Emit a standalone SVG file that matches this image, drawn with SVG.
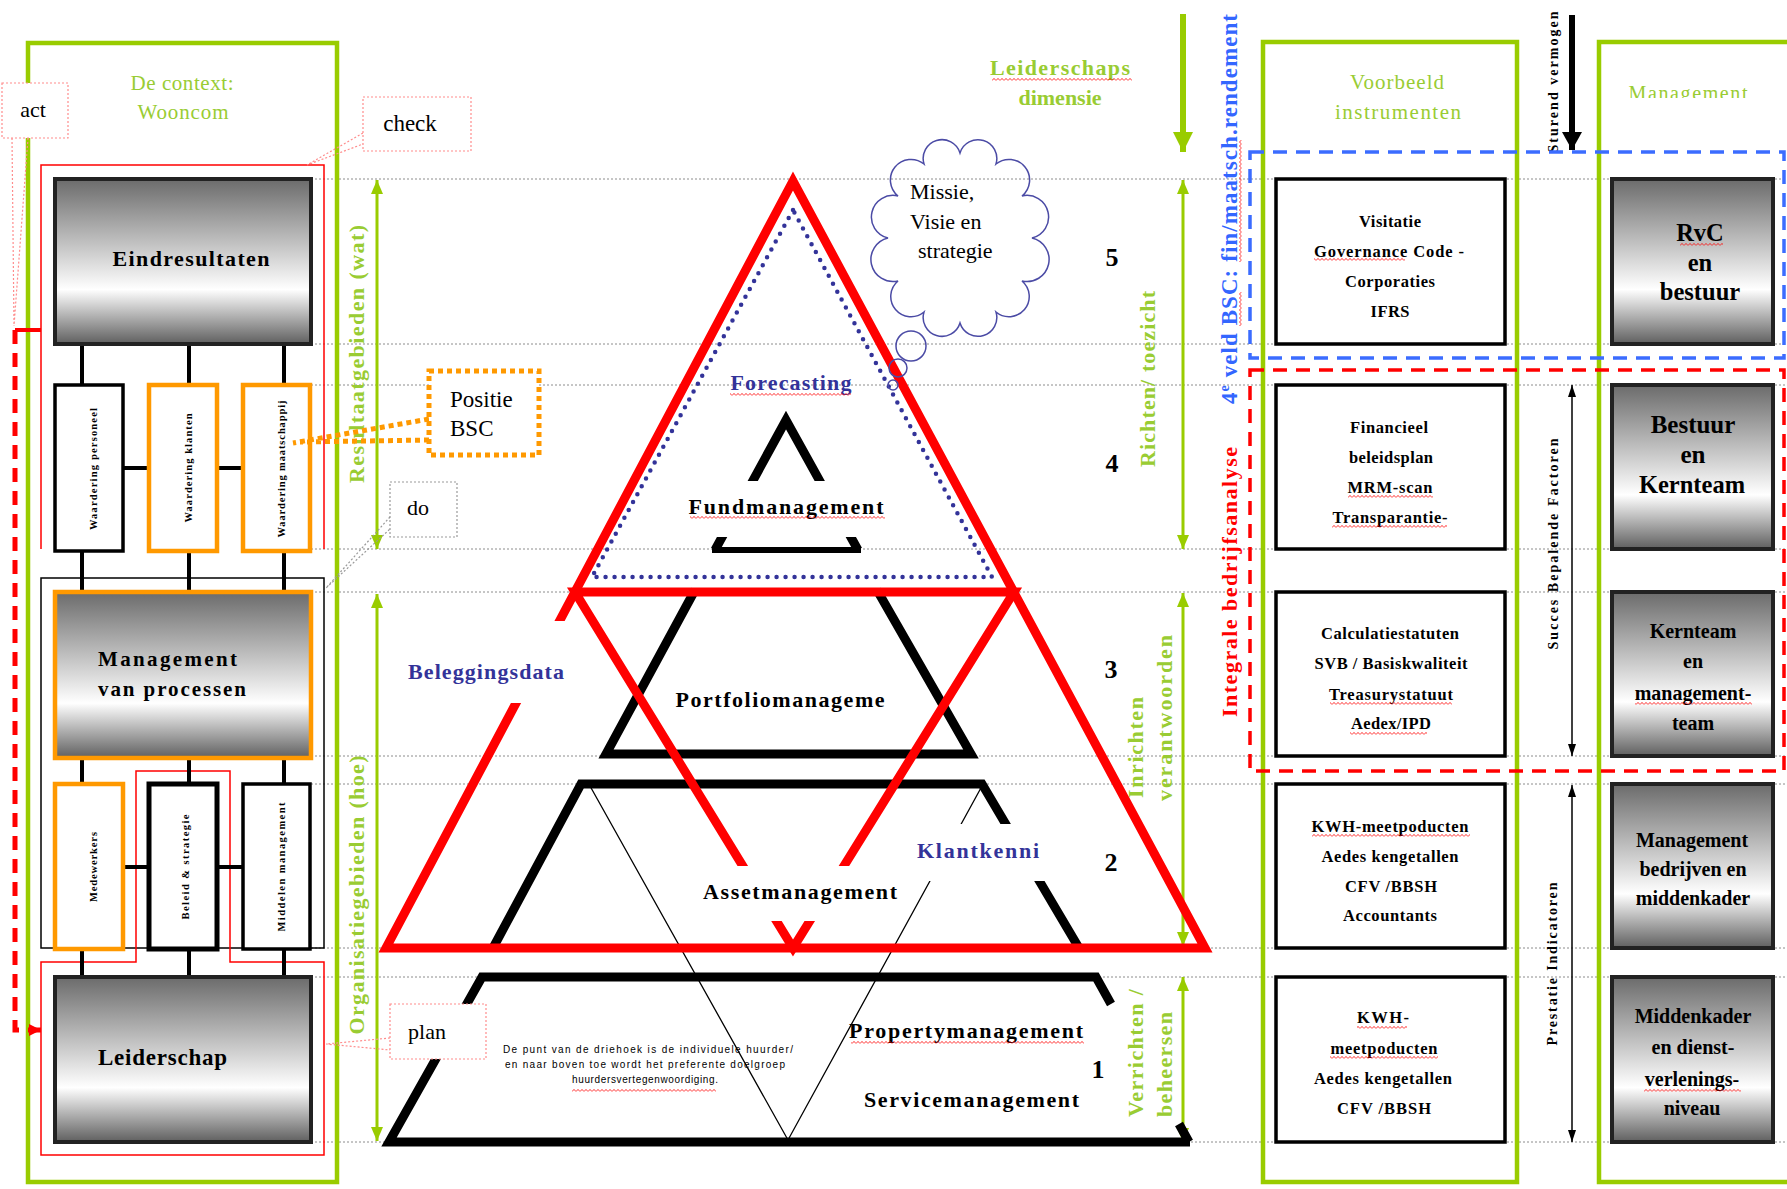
<svg xmlns="http://www.w3.org/2000/svg" width="1787" height="1189" viewBox="0 0 1787 1189">
<defs>
  <linearGradient id="shade" x1="0" y1="0" x2="0" y2="1">
    <stop offset="0" stop-color="#6b6b6b"/>
    <stop offset="0.67" stop-color="#ffffff"/>
    <stop offset="1" stop-color="#5f5f5f"/>
  </linearGradient>
  <pattern id="squiggle" width="4" height="3" patternUnits="userSpaceOnUse">
    <polyline points="0,2.6 2,0.4 4,2.6" fill="none" stroke="#ff0000" stroke-width="0.8"/>
  </pattern>
  <marker id="ah-green" viewBox="0 0 14 12" refX="14" refY="6" markerUnits="userSpaceOnUse" markerWidth="14" markerHeight="12" orient="auto-start-reverse">
    <path d="M0,0 L14,6 L0,12 Z" fill="#99cc00"/>
  </marker>
  <marker id="ah-green-big" viewBox="0 0 20 20" refX="20" refY="10" markerUnits="userSpaceOnUse" markerWidth="20" markerHeight="20" orient="auto">
    <path d="M0,0 L20,10 L0,20 Z" fill="#99cc00"/>
  </marker>
  <marker id="ah-black-big" viewBox="0 0 18 20" refX="18" refY="10" markerUnits="userSpaceOnUse" markerWidth="18" markerHeight="20" orient="auto">
    <path d="M0,0 L18,10 L0,20 Z" fill="#000"/>
  </marker>
  <marker id="ah-black" viewBox="0 0 12 8" refX="12" refY="4" markerUnits="userSpaceOnUse" markerWidth="12" markerHeight="8" orient="auto-start-reverse">
    <path d="M0,0 L12,4 L0,8 Z" fill="#000"/>
  </marker>
  <marker id="ah-red" viewBox="0 0 12 12" refX="12" refY="6" markerUnits="userSpaceOnUse" markerWidth="12" markerHeight="12" orient="auto">
    <path d="M0,0 L12,6 L0,12 Z" fill="#ff0000"/>
  </marker>
  <clipPath id="mgmt-clip"><rect x="1600" y="50" width="187" height="48"/></clipPath>
</defs>
<style>
  .sf{font-family:"Liberation Serif","Times New Roman",serif}
  .ss{font-family:"Liberation Sans",Arial,sans-serif}
  .b{font-weight:bold}
  .mid{text-anchor:middle}
  .gtxt{fill:#99cc33}
  .navy{fill:#333399}
  .dot{stroke:#8c8c8c;stroke-width:1;stroke-dasharray:2 2}
  .conn{stroke:#000;stroke-width:4}
  .gframe{fill:none;stroke:#99cc00;stroke-width:4.5}
  .shadebox{fill:url(#shade);stroke:#222;stroke-width:4}
  .wbox{fill:#fff;stroke:#000;stroke-width:3.5}
  .obox{fill:#fff;stroke:#ff9900;stroke-width:4.5}
  .callout{fill:#fff;stroke:#ff8c8c;stroke-width:1.2;stroke-dasharray:2 2}
  .tail{fill:none;stroke:#ff8c8c;stroke-width:1.2;stroke-dasharray:2 2}
  .sq{fill:url(#squiggle)}
  .garrow{stroke:#99cc00;stroke-width:3}
  .lbl{fill:#fff}
  .instr{font-size:16.5px}
</style>

<rect x="0" y="0" width="1787" height="1189" fill="#fff"/>

<!-- level guide lines -->
<g id="level-lines" class="dot">
  <line x1="311" y1="179" x2="1787" y2="179"/>
  <line x1="311" y1="344" x2="1787" y2="344"/>
  <line x1="311" y1="385" x2="1787" y2="385"/>
  <line x1="311" y1="549" x2="1787" y2="549"/>
  <line x1="311" y1="592" x2="1787" y2="592"/>
  <line x1="311" y1="756" x2="1787" y2="756"/>
  <line x1="311" y1="784" x2="1787" y2="784"/>
  <line x1="311" y1="948" x2="1787" y2="948"/>
  <line x1="311" y1="977" x2="1787" y2="977"/>
  <line x1="311" y1="1142" x2="1787" y2="1142"/>
</g>

<!-- left panel: context frame and PDCA frames -->
<g id="context-frame">
  <rect class="gframe" x="28" y="43" width="309" height="1139"/>
  <text class="sf gtxt mid" x="182" y="90" font-size="21" textLength="103">De context:</text>
  <text class="sf gtxt mid" x="183" y="119" font-size="21" textLength="91">Wooncom</text>
  <path d="M41,549 V165 H324 V549" fill="none" stroke="#ff0000" stroke-width="1.5"/>
  <rect x="41" y="578" width="283" height="370" fill="none" stroke="#000" stroke-width="1.5"/>
  <path d="M41,962 H136 V771 H230 V962 H324 V1155 H41 Z" fill="none" stroke="#ff0000" stroke-width="1.5"/>
  <line x1="15" y1="330" x2="41" y2="330" stroke="#ff0000" stroke-width="4"/>
  <path d="M15,330 V1030 H41" fill="none" stroke="#ff0000" stroke-width="5" stroke-dasharray="14 9" marker-end="url(#ah-red)"/>
</g>

<!-- connectors between the model boxes -->
<g id="connectors">
  <g class="conn">
    <line x1="82" y1="344" x2="82" y2="385"/>
    <line x1="189" y1="344" x2="189" y2="385"/>
    <line x1="284" y1="344" x2="284" y2="385"/>
    <line x1="82" y1="551" x2="82" y2="592"/>
    <line x1="189" y1="551" x2="189" y2="592"/>
    <line x1="284" y1="551" x2="284" y2="592"/>
    <line x1="82" y1="758" x2="82" y2="784"/>
    <line x1="189" y1="758" x2="189" y2="784"/>
    <line x1="284" y1="758" x2="284" y2="784"/>
    <line x1="82" y1="949" x2="82" y2="977"/>
    <line x1="189" y1="949" x2="189" y2="977"/>
    <line x1="284" y1="949" x2="284" y2="977"/>
    <line x1="123" y1="468" x2="149" y2="468"/>
    <line x1="217" y1="468" x2="243" y2="468"/>
    <line x1="123" y1="867" x2="149" y2="867"/>
    <line x1="217" y1="867" x2="243" y2="867"/>
  </g>
  <!-- vertical range arrows -->
  <line class="garrow" x1="377" y1="180" x2="377" y2="549" marker-start="url(#ah-green)" marker-end="url(#ah-green)"/>
  <line class="garrow" x1="377" y1="594" x2="377" y2="1141" marker-start="url(#ah-green)" marker-end="url(#ah-green)"/>
  <line class="garrow" x1="1183" y1="180" x2="1183" y2="549" marker-start="url(#ah-green)" marker-end="url(#ah-green)"/>
  <line class="garrow" x1="1183" y1="593" x2="1183" y2="946" marker-start="url(#ah-green)" marker-end="url(#ah-green)"/>
  <line class="garrow" x1="1183" y1="977" x2="1183" y2="1142" marker-start="url(#ah-green)" marker-end="url(#ah-green)"/>
  <line x1="1183" y1="14" x2="1183" y2="152" stroke="#99cc00" stroke-width="6" marker-end="url(#ah-green-big)"/>
  <line x1="1572" y1="15" x2="1572" y2="150" stroke="#000" stroke-width="6" marker-end="url(#ah-black-big)"/>
  <line x1="1572" y1="385" x2="1572" y2="756" stroke="#000" stroke-width="1.5" marker-start="url(#ah-black)" marker-end="url(#ah-black)"/>
  <line x1="1572" y1="785" x2="1572" y2="1142" stroke="#000" stroke-width="1.5" marker-start="url(#ah-black)" marker-end="url(#ah-black)"/>
</g>

<!-- model boxes -->
<g id="eindresultaten">
  <rect class="shadebox" x="55" y="179" width="256" height="165"/>
  <text class="sf b mid" x="191" y="266" font-size="22" textLength="157">Eindresultaten</text>
</g>
<g id="waardering-personeel">
  <rect class="wbox" x="55" y="385" width="68" height="166"/>
  <text class="sf b mid" transform="translate(97,469) rotate(-90)" font-size="10.5" textLength="122">Waardering personeel</text>
</g>
<g id="waardering-klanten">
  <rect class="obox" x="149" y="385" width="68" height="166"/>
  <text class="sf b mid" transform="translate(192,468) rotate(-90)" font-size="10.5" textLength="109">Waardering klanten</text>
</g>
<g id="waardering-maatschappij">
  <rect class="obox" x="243" y="385" width="67" height="166"/>
  <text class="sf b mid" transform="translate(285,469) rotate(-90)" font-size="10.5" textLength="137">Waardering maatschappij</text>
</g>
<g id="management-processen">
  <rect x="55" y="592" width="256" height="166" fill="url(#shade)" stroke="#ff9900" stroke-width="4.5"/>
  <text class="sf b" x="98" y="666" font-size="21" textLength="139">Management</text>
  <text class="sf b" x="98" y="696" font-size="21" textLength="148">van processen</text>
</g>
<g id="medewerkers">
  <rect class="obox" x="55" y="784" width="68" height="165"/>
  <text class="sf b mid" transform="translate(97,867) rotate(-90)" font-size="10.5" textLength="70">Medewerkers</text>
</g>
<g id="beleid-strategie">
  <rect x="149" y="784" width="68" height="165" fill="#fff" stroke="#000" stroke-width="5"/>
  <text class="sf b mid" transform="translate(189,867) rotate(-90)" font-size="10.5" textLength="105">Beleid &amp; strategie</text>
</g>
<g id="middelen-management">
  <rect class="wbox" x="243" y="784" width="67" height="165"/>
  <text class="sf b mid" transform="translate(285,867) rotate(-90)" font-size="10.5" textLength="129">Middelen management</text>
</g>
<g id="leiderschap">
  <rect class="shadebox" x="55" y="977" width="256" height="165"/>
  <text class="sf b" x="98" y="1065" font-size="23" textLength="129">Leiderschap</text>
</g>

<!-- range labels -->
<g id="range-labels">
  <text class="sf b gtxt mid" transform="translate(364,354) rotate(-90)" font-size="22" textLength="258">Resultaatgebieden (wat)</text>
  <text class="sf b gtxt mid" transform="translate(364,895) rotate(-90)" font-size="22" textLength="279">Organisatiegebieden (hoe)</text>
  <text class="sf b gtxt mid" x="1060" y="75" font-size="22" textLength="140">Leiderschaps</text>
  <text class="sf b gtxt mid" x="1060" y="105" font-size="22">dimensie</text>
  <text class="sf b gtxt mid" transform="translate(1155,379) rotate(-90)" font-size="22" textLength="176">Richten/ toezicht</text>
  <text class="sf b gtxt" transform="translate(1143,798) rotate(-90)" font-size="22" textLength="101">Inrichten</text>
  <text class="sf b gtxt" transform="translate(1172,801) rotate(-90)" font-size="22" textLength="166">verantwoorden</text>
  <text class="sf b gtxt" transform="translate(1143,1117) rotate(-90)" font-size="22" textLength="128">Verrichten /</text>
  <text class="sf b gtxt" transform="translate(1172,1117) rotate(-90)" font-size="22" textLength="105">beheersen</text>
  <text class="sf b mid" x="1112" y="266" font-size="26">5</text>
  <text class="sf b mid" x="1112" y="472" font-size="26">4</text>
  <text class="sf b mid" x="1111" y="678" font-size="26">3</text>
  <text class="sf b mid" x="1111" y="871" font-size="26">2</text>
  <text class="sf b mid" x="1098" y="1078" font-size="26">1</text>
</g>

<!-- pyramid -->
<g id="pyramid">
  <path d="M695,590 L606,754 L971,754 L877,590" fill="none" stroke="#000" stroke-width="9"/>
  <path d="M493,948 L581,784 L982,784 L1079,948" fill="none" stroke="#000" stroke-width="9"/>
  <path d="M1111,1004 L1096,977 L482,977 L389,1142 L1190,1142 M1179,1124 L1189,1142" fill="none" stroke="#000" stroke-width="9"/>
  <path d="M590,786 L788,1140 L982,786" fill="none" stroke="#000" stroke-width="1.3"/>
  <polygon points="793,181 386,948 1205,948" fill="none" stroke="#ff0000" stroke-width="9"/>
  <polygon points="575,592 1014,592 793,948" fill="none" stroke="#ff0000" stroke-width="9"/>
  <polygon points="793,210 592,577 992,577" fill="none" stroke="#333399" stroke-width="4.5" stroke-linecap="round" stroke-dasharray="0 9"/>
  <path d="M715,550 L786,420 L858,550" fill="none" stroke="#000" stroke-width="9"/>
  <line x1="712" y1="550" x2="861" y2="550" stroke="#000" stroke-width="6"/>
  <rect class="lbl" x="700" y="481" width="175" height="56"/>
  <rect class="lbl" x="400" y="621" width="168" height="82"/>
  <rect class="lbl" x="915" y="824" width="130" height="57"/>
  <rect class="lbl" x="700" y="866" width="200" height="55"/>
  <text class="sf b mid navy" x="791" y="390" font-size="22" textLength="121">Forecasting</text>
  <text class="sf b mid" x="786" y="514" font-size="22" textLength="195">Fundmanagement</text>
  <text class="sf b mid" x="780" y="707" font-size="22" textLength="209">Portfoliomanageme</text>
  <text class="sf b navy" x="408" y="679" font-size="22" textLength="156">Beleggingsdata</text>
  <text class="sf b mid navy" x="978" y="858" font-size="22" textLength="122">Klantkenni</text>
  <text class="sf b mid" x="800" y="899" font-size="22" textLength="194">Assetmanagement</text>
  <text class="sf b" x="849" y="1038" font-size="22" textLength="234">Propertymanagement</text>
  <text class="sf b" x="864" y="1107" font-size="22" textLength="215">Servicemanagement</text>
  <text class="ss mid" x="648" y="1053" font-size="10" textLength="290">De punt van de driehoek is de individuele huurder/</text>
  <text class="ss mid" x="645" y="1068" font-size="10" textLength="280">en naar boven toe wordt het preferente doelgroep</text>
  <text class="ss mid" x="645" y="1083" font-size="10" textLength="146">huurdersvertegenwoordiging.</text>
</g>

<!-- PDCA callouts with their tails -->
<g id="callout-act">
  <path class="tail" d="M12,138 L14,326 M28,138 L14,326"/>
  <rect class="callout" x="2" y="83" width="66" height="55"/>
  <text class="sf" x="33" y="117" font-size="22" text-anchor="middle">act</text>
</g>
<g id="callout-check">
  <path class="tail" d="M363,133 L307,165 L363,144"/>
  <rect class="callout" x="363" y="97" width="108" height="54"/>
  <text class="sf" x="410" y="131" font-size="23" text-anchor="middle">check</text>
</g>
<g id="callout-do">
  <path d="M390,517 L326,588 L390,529" fill="none" stroke="#999" stroke-width="1.2" stroke-dasharray="2 2"/>
  <rect x="390" y="482" width="67" height="55" fill="#fff" stroke="#999" stroke-width="1.2" stroke-dasharray="2 2"/>
  <text class="sf" x="418" y="515" font-size="22" text-anchor="middle">do</text>
</g>
<g id="callout-plan">
  <path class="tail" d="M390,1038 L326,1044 L390,1050"/>
  <rect class="callout" x="390" y="1004" width="96" height="55"/>
  <text class="sf" x="427" y="1039" font-size="22" text-anchor="middle">plan</text>
</g>
<g id="positie-bsc">
  <path d="M429,419 L293,443 M429,440 L300,442" fill="none" stroke="#ff9900" stroke-width="5" stroke-dasharray="5 4"/>
  <rect x="429" y="371" width="110" height="84" fill="#fff" stroke="#ff9900" stroke-width="5" stroke-dasharray="5 4"/>
  <text class="sf" x="450" y="407" font-size="23">Positie</text>
  <text class="sf" x="450" y="436" font-size="23">BSC</text>
</g>

<!-- thought cloud -->
<g id="missie-cloud">
  <path d="M888,238 A18,18 0 0 1 898,196 A18,18 0 0 1 924,164 A18,18 0 0 1 960,153 A18,18 0 0 1 996,164 A18,18 0 0 1 1022,196 A18,18 0 0 1 1032,238 A18,18 0 0 1 1022,281 A18,18 0 0 1 996,312 A18,18 0 0 1 960,323 A18,18 0 0 1 924,312 A18,18 0 0 1 898,281 A18,18 0 0 1 888,238 Z" fill="none" stroke="#4b4ba5" stroke-width="1.5"/>
  <circle cx="911" cy="346" r="15" fill="none" stroke="#4b4ba5" stroke-width="1.5"/>
  <circle cx="898" cy="368" r="9" fill="none" stroke="#4b4ba5" stroke-width="1.5"/>
  <circle cx="893" cy="385" r="5" fill="none" stroke="#4b4ba5" stroke-width="1.5"/>
  <text class="sf" x="910" y="199" font-size="22">Missie,</text>
  <text class="sf" x="910" y="229" font-size="22">Visie en</text>
  <text class="sf" x="918" y="258" font-size="22">strategie</text>
</g>

<!-- analysis frames -->
<g id="bsc-frames">
  <text class="sf b mid" transform="translate(1237,209) rotate(-90)" font-size="23" fill="#3366ff" textLength="390">4<tspan font-size="14" dy="-8">e</tspan><tspan dy="8"> veld BSC:  fin/maatsch.rendement</tspan></text>
  <text class="sf b mid" transform="translate(1237,582) rotate(-90)" font-size="22" fill="#ff0000" textLength="270">Integrale bedrijfsanalyse</text>
  <text class="sf b mid" transform="translate(1558,82) rotate(-90)" font-size="14" textLength="141">Sturend vermogen</text>
  <text class="sf b mid" transform="translate(1558,544) rotate(-90)" font-size="14" textLength="211">Succes Bepalende Factoren</text>
  <text class="sf b mid" transform="translate(1557,964) rotate(-90)" font-size="14" textLength="163">Prestatie Indicatoren</text>
</g>

<!-- instruments column -->
<g id="col-instrumenten">
  <rect class="gframe" x="1263" y="42" width="254" height="1140"/>
  <text class="sf gtxt mid" x="1397" y="89" font-size="21" textLength="94">Voorbeeld</text>
  <text class="sf gtxt mid" x="1398" y="119" font-size="21" textLength="126">instrumenten</text>
</g>
<g id="col-management">
  <rect class="gframe" x="1599" y="42" width="200" height="1140"/>
  <text class="sf gtxt mid" x="1688" y="100" font-size="20" textLength="119" clip-path="url(#mgmt-clip)">Management</text>
</g>
<rect x="1250" y="152" width="534" height="206" fill="none" stroke="#3b6cff" stroke-width="3.5" stroke-dasharray="14 9"/>
<rect x="1250" y="370" width="534" height="401" fill="none" stroke="#ff0000" stroke-width="3.5" stroke-dasharray="14 9"/>

<g id="instr-1">
  <rect class="wbox" x="1276" y="179" width="229" height="165"/>
  <text class="sf b mid instr" x="1390" y="227" textLength="62">Visitatie</text>
  <text class="sf b mid instr" x="1389" y="257" textLength="150">Governance Code -</text>
  <text class="sf b mid instr" x="1390" y="287" textLength="90">Corporaties</text>
  <text class="sf b mid instr" x="1390" y="317" textLength="39">IFRS</text>
</g>
<g id="instr-2">
  <rect class="wbox" x="1276" y="385" width="229" height="164"/>
  <text class="sf b mid instr" x="1389" y="433" textLength="78">Financieel</text>
  <text class="sf b mid instr" x="1391" y="463" textLength="84">beleidsplan</text>
  <text class="sf b mid instr" x="1390" y="493" textLength="85">MRM-scan</text>
  <text class="sf b mid instr" x="1390" y="523" textLength="115">Transparantie-</text>
</g>
<g id="instr-3">
  <rect class="wbox" x="1276" y="592" width="229" height="164"/>
  <text class="sf b mid instr" x="1390" y="639" textLength="138">Calculatiestatuten</text>
  <text class="sf b mid instr" x="1391" y="669" textLength="153">SVB / Basiskwaliteit</text>
  <text class="sf b mid instr" x="1391" y="700" textLength="124">Treasurystatuut</text>
  <text class="sf b mid instr" x="1391" y="729" textLength="80">Aedex/IPD</text>
</g>
<g id="instr-4">
  <rect class="wbox" x="1276" y="784" width="229" height="164"/>
  <text class="sf b mid instr" x="1390" y="832" textLength="157">KWH-meetpoducten</text>
  <text class="sf b mid instr" x="1390" y="862" textLength="137">Aedes kengetallen</text>
  <text class="sf b mid instr" x="1391" y="892" textLength="92">CFV /BBSH</text>
  <text class="sf b mid instr" x="1390" y="921" textLength="94">Accountants</text>
</g>
<g id="instr-5">
  <rect class="wbox" x="1276" y="977" width="229" height="165"/>
  <text class="sf b mid instr" x="1383" y="1023" textLength="52">KWH-</text>
  <text class="sf b mid instr" x="1384" y="1054" textLength="107">meetpoducten</text>
  <text class="sf b mid instr" x="1383" y="1084" textLength="138">Aedes kengetallen</text>
  <text class="sf b mid instr" x="1384" y="1114" textLength="94">CFV /BBSH</text>
</g>

<g id="mgmt-rvc">
  <rect class="shadebox" x="1612" y="179" width="161" height="165"/>
  <text class="sf b mid" x="1700" y="241" font-size="24.5">RvC</text>
  <text class="sf b mid" x="1700" y="271" font-size="24.5">en</text>
  <text class="sf b mid" x="1700" y="300" font-size="24.5">bestuur</text>
</g>
<g id="mgmt-bestuur">
  <rect class="shadebox" x="1612" y="385" width="161" height="164"/>
  <text class="sf b mid" x="1693" y="433" font-size="25">Bestuur</text>
  <text class="sf b mid" x="1693" y="463" font-size="25">en</text>
  <text class="sf b mid" x="1692" y="493" font-size="24.5">Kernteam</text>
</g>
<g id="mgmt-kernteam">
  <rect class="shadebox" x="1612" y="592" width="161" height="164"/>
  <text class="sf b mid" x="1693" y="638" font-size="20">Kernteam</text>
  <text class="sf b mid" x="1693" y="668" font-size="20">en</text>
  <text class="sf b mid" x="1693" y="700" font-size="20">management-</text>
  <text class="sf b mid" x="1693" y="730" font-size="20">team</text>
</g>
<g id="mgmt-bedrijven">
  <rect class="shadebox" x="1612" y="784" width="161" height="164"/>
  <text class="sf b mid" x="1692" y="847" font-size="20">Management</text>
  <text class="sf b mid" x="1693" y="876" font-size="20">bedrijven en</text>
  <text class="sf b mid" x="1693" y="905" font-size="20">middenkader</text>
</g>
<g id="mgmt-middenkader">
  <rect class="shadebox" x="1612" y="977" width="161" height="165"/>
  <text class="sf b mid" x="1693" y="1023" font-size="20">Middenkader</text>
  <text class="sf b mid" x="1693" y="1054" font-size="20">en dienst-</text>
  <text class="sf b mid" x="1692" y="1086" font-size="20">verlenings-</text>
  <text class="sf b mid" x="1692" y="1115" font-size="20">niveau</text>
</g>

<!-- spell-check underlines -->
<g id="spell-marks" class="sq">
  <rect x="992" y="78" width="140" height="3"/>
  <rect x="730" y="393" width="121" height="3"/>
  <rect x="690" y="516" width="195" height="3"/>
  <rect x="851" y="1041" width="233" height="3"/>
  <rect x="572" y="1089" width="144" height="3"/>
  <rect x="1680" y="243" width="43" height="3"/>
  <rect x="1314" y="258" width="91" height="3"/>
  <rect x="1348" y="495" width="85" height="3"/>
  <rect x="1332" y="525" width="115" height="3"/>
  <rect x="1330" y="702" width="122" height="3"/>
  <rect x="1350" y="732" width="77" height="3"/>
  <rect x="1312" y="834" width="158" height="3"/>
  <rect x="1357" y="1026" width="50" height="3"/>
  <rect x="1330" y="1056" width="108" height="3"/>
  <rect x="1635" y="702" width="117" height="3"/>
  <rect x="1644" y="1089" width="97" height="3"/>
  <rect transform="rotate(-90)" x="-262" y="1239" width="122" height="3"/>
  <rect transform="rotate(-90)" x="-326" y="1239" width="34" height="3"/>
</g>
</svg>
